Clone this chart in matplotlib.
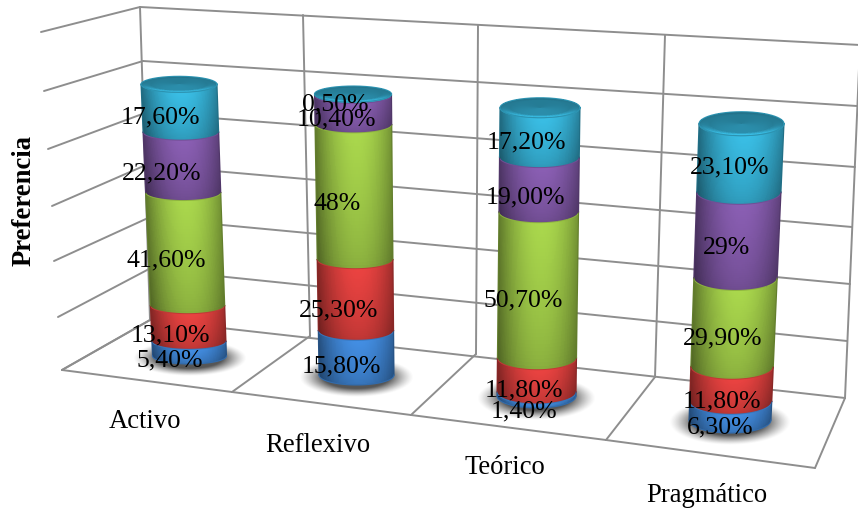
import numpy as np
import matplotlib
matplotlib.use("Agg")
import matplotlib.pyplot as plt

# ---------- data ----------
categories = ["Activo", "Reflexivo", "Teórico", "Pragmático"]
blue_values = [5.4, 15.8, 1.4, 6.3]
red_values = [13.1, 25.3, 11.8, 11.8]
green_values = [41.6, 48.0, 50.7, 29.9]
purple_values = [22.2, 10.4, 19.0, 29.0]
teal_values = [17.6, 0.5, 17.2, 23.1]
blue_labels = ["5,40%", "15,80%", "1,40%", "6,30%"]
red_labels = ["13,10%", "25,30%", "11,80%", "11,80%"]
green_labels = ["41,60%", "48%", "50,70%", "29,90%"]
purple_labels = ["22,20%", "10,40%", "19,00%", "29%"]
teal_labels = ["17,60%", "0,50%", "17,20%", "23,10%"]
axis_title = "Preferencia"
value_ticks = [0, 20, 40, 60, 80, 100, 120]

series = [blue_values, red_values, green_values, purple_values, teal_values]
series_labels = [blue_labels, red_labels, green_labels, purple_labels, teal_labels]

# ---------- style ----------
series_colors = ["#3f86d6", "#dd3f3d", "#a0cb48", "#8259a9", "#36b3d8"]
grid_color = "#8e8e8e"
plt.rcParams["font.family"] = ["Liberation Serif", "DejaVu Serif"]

# ---------- projection of the 3-D scene onto the picture ----------
# per category: centre x, centre y, radius, ellipse half height at value 0 and value 100
base_anchor = [(189.5, 356, 37, 8), (356.5, 375, 37.5, 10), (536.5, 396, 39.5, 12), (730, 420, 41, 13)]
top_anchor = [(179, 84, 38, 8), (353, 94, 38.5, 8), (540, 108, 40, 10), (741.5, 124, 42.5, 12)]
scale_top = 100.0

wall_left = [(150, 320), (149, 269), (148, 218), (146, 165), (145, 113), (143, 61), (140, 7)]
wall_right = [(845, 398), (847, 341), (850, 284), (852, 227), (855, 167), (857, 106), (860, 45)]
side_end = [(62, 370), (58, 317), (54, 261), (52, 206), (48, 149), (44, 91), (41, 32)]
wall_bottom = [(150, 320), (310, 336), (476, 354), (655, 377), (845, 398)]
wall_top = [(140, 7), (303, 15), (478, 25), (665, 35), (860, 45)]
floor_front = [(62, 370), (232, 392), (411, 415), (606, 440), (815, 468)]

label_x = [[170, 341, 523.5, 720], [170, 339, 524, 721.5], [166.5, 337, 523.5, 723],
           [162, 336, 525.5, 727], [160.5, 335.5, 526, 730]]
label_y = [[360, 366, 411, 427], [335, 310, 390, 401], [260, 204, 300, 338],
           [173, 119, 197, 248], [117, 104, 142, 167]]
cat_x = [144.5, 318, 505, 707]
cat_y = [421, 445, 468, 496]

fig = plt.figure(figsize=(8.58, 5.12), dpi=100)
ax = fig.add_axes([0, 0, 1, 1])


def project(i, value):
    t = value / scale_top
    b, a = np.array(base_anchor[i], float), np.array(top_anchor[i], float)
    return b + (a - b) * t


def seg(p, q, z=1):
    ax.plot([p[0], q[0]], [p[1], q[1]], color=grid_color, lw=1.4, zorder=z, solid_capstyle="round")


# walls and floor
for tick, l, r, s in zip(value_ticks, wall_left, wall_right, side_end):
    seg(l, r)
    seg(s, l)
for b, t in zip(wall_bottom, wall_top):
    seg(b, t)
for f, b in zip(floor_front, wall_bottom):
    seg(f, b)
for p, q in zip(floor_front[:-1], floor_front[1:]):
    seg(p, q)

# floor shadows
for i in range(len(categories)):
    cx, cy, r, ry = project(i, 0)
    rx_s, ry_s = r + 20, ry + 10
    yy, xx = np.mgrid[-1:1:160j, -1:1:160j]
    d = np.clip(np.hypot(xx, yy), 0, 1)
    img = np.zeros((160, 160, 4))
    img[..., :3] = 0.22
    img[..., 3] = 0.85 * np.clip((1 - d) / 0.42, 0, 1) ** 1.3
    ax.imshow(img, extent=(cx - rx_s, cx + rx_s, cy + ry_s + 2, cy - ry_s + 2), aspect="auto",
              interpolation="bilinear", zorder=2)

theta = np.linspace(-np.pi / 2, np.pi / 2, 121)
u = np.sin(theta)
uc = 0.5 * (u[1:] + u[:-1])
horiz = 0.58 + 0.46 * (1 - np.clip(np.abs(uc - 0.08) / 1.08, 0, 1) ** 2.0)

for i in range(len(categories)):
    start = 0.0
    for k, vals in enumerate(series):
        end = start + vals[i]
        rows = np.linspace(start, end, 41)
        P = np.array([project(i, v) for v in rows])
        X = P[:, 0, None] + P[:, 2, None] * u[None, :]
        Y = P[:, 1, None] + P[:, 3, None] * np.cos(theta)[None, :]
        vc = np.linspace(0, 1, 40)[:, None]
        vert = 0.82 + 0.20 * vc ** 0.7
        rgb = np.array(matplotlib.colors.to_rgb(series_colors[k]))
        C = np.clip(rgb[None, None, :] * (horiz[None, :] * vert)[..., None], 0, 1)
        ax.pcolormesh(X, Y, C, shading="flat", zorder=3 + 0.01 * k, antialiased=False, linewidth=0)
        for col in (0, -1):
            ax.plot(X[:, col], Y[:, col], color=rgb * 0.62, lw=0.8, zorder=3.2)
        # soft seam where this band meets the next one
        ax.plot(X[-1], Y[-1], color=rgb * 0.88, lw=0.7, zorder=3.15)
        start = end
    # lower rim of the base
    cxb, cyb, rb, ryb = project(i, 0)
    ax.plot(cxb + rb * u, cyb + ryb * np.cos(theta), color=np.array(matplotlib.colors.to_rgb(series_colors[0])) * 0.8,
            lw=0.8, zorder=3.2)

    # top cap, using the last series colour
    cxt, cyt, rt, ryt = project(i, start)
    rad = np.linspace(0, 1, 41)
    ang = np.linspace(0, 2 * np.pi, 241)
    RR, AA = np.meshgrid(rad, ang, indexing="ij")
    XC = cxt + rt * RR * np.cos(AA)
    YC = cyt + ryt * RR * np.sin(AA)
    rc = 0.5 * (rad[1:] + rad[:-1])
    ac = 0.5 * (ang[1:] + ang[:-1])
    Rc, Ac = np.meshgrid(rc, ac, indexing="ij")
    shade = 0.74 + 0.05 * np.sin(Ac)
    rim = np.clip((Rc - 0.74) / 0.2, 0, 1) * (0.12 + 0.20 * np.sin(Ac))
    side = 1 - 0.22 * np.abs(Rc * np.cos(Ac)) ** 4
    teal = np.array(matplotlib.colors.to_rgb(series_colors[-1]))
    CC = np.clip(teal[None, None, :] * ((shade + rim) * side)[..., None], 0, 1)
    ax.pcolormesh(XC, YC, CC, shading="flat", zorder=3.3, antialiased=False, linewidth=0)
    ax.plot(XC[-1], YC[-1], color=teal * 0.82, lw=0.8, zorder=3.31)

# data labels
for k, labs in enumerate(series_labels):
    for i, s in enumerate(labs):
        ax.text(label_x[k][i], label_y[k][i], s, fontsize=18.5, color="black", ha="center",
                va="center", zorder=5)

# category labels and axis title
for x, y, s in zip(cat_x, cat_y, categories):
    ax.text(x, y, s, fontsize=19.2, color="black", ha="center", va="center", zorder=5)
ax.text(24, 201, axis_title, fontsize=19.2, fontweight="bold", rotation=90, ha="center",
        va="center", zorder=5)

ax.set_xlim(0, 858)
ax.set_ylim(512, 0)
ax.axis("off")
fig.savefig("out.png", dpi=100, facecolor="white")
